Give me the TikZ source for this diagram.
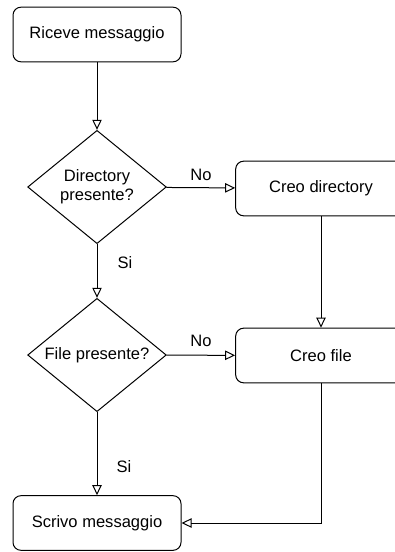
\documentclass[tikz,border=0pt]{standalone}
\usepackage{fontspec}
\setmainfont{Liberation Sans}
\usetikzlibrary{shapes.geometric,arrows.meta}

\tikzset{
    box/.style={draw, rounded corners=6pt, line width=0.75pt, minimum width=126pt, minimum height=41pt, align=center},
    decision/.style={draw, diamond, aspect=1.23, line width=0.75pt, minimum width=104pt, minimum height=85pt, inner sep=0pt, align=center},
    arr/.style={line width=0.75pt, -{Triangle[open, length=7.5pt, width=7pt]}},
    lbl/.style={inner sep=0pt}
}

\begin{document}
\begin{tikzpicture}[x=0.75pt, y=-0.75pt, font=\fontsize{12.4}{14}\selectfont]
        \useasboundingbox (0,0) rectangle (395,552);
        \clip (0,0) rectangle (395,552);
        % Draw the steps and the questions
        \node[box] (ricevi) at (97,34.5) {Riceve messaggio};
        \node[decision] (dirq) at (97,187) {Directory\\presente?};
        \node[box, minimum width=128pt] (creadir) at (321,188.5) {Creo directory};
        \node[decision] (fileq) at (97,355) {File presente?};
        \node[box, minimum width=128pt] (creafile) at (321,355.5) {Creo file};
        \node[box] (scrivi) at (97,523) {Scrivo messaggio};

        % Connect them
        \draw[arr] (ricevi) -- (dirq);
        \draw[arr] (dirq) -- (creadir);
        \draw[arr] (dirq) -- (fileq);
        \draw[arr] (creadir) -- (creafile);
        \draw[arr] (fileq) -- (creafile);
        \draw[arr] (fileq) -- (scrivi);
        \draw[arr] (creafile) |- (scrivi);

        % Add the answers
        \node[lbl] (no1) at (201,175) {No};
        \node[lbl] (si1) at (125,263) {Si};
        \node[lbl] (no2) at (201,341) {No};
        \node[lbl] (si2) at (124,467) {Si};
    \end{tikzpicture}
\end{document}
